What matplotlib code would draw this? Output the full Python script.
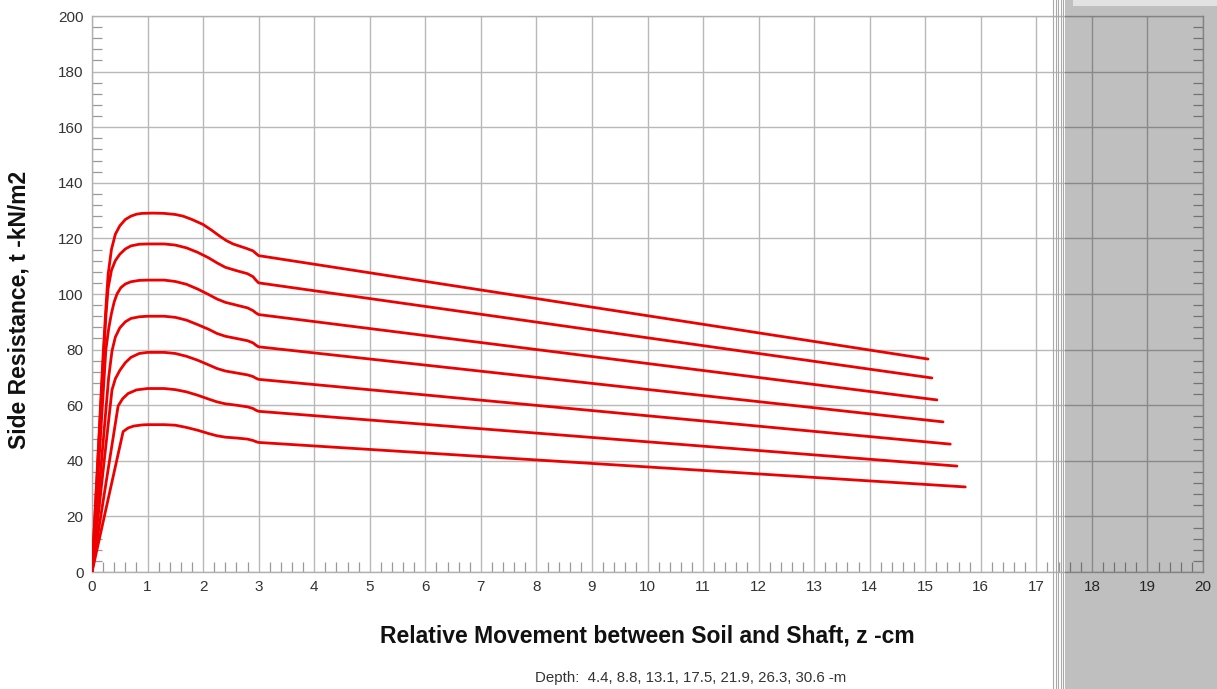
import matplotlib
matplotlib.use("Agg")
import matplotlib.pyplot as plt
from matplotlib.patches import Rectangle
from matplotlib.lines import Line2D
from matplotlib.ticker import MultipleLocator

plt.rcParams['font.family'] = ['Liberation Sans', 'DejaVu Sans']

# Relative movement z (cm) and side resistance t (kN/m2) for each depth
depths = [4.4, 8.8, 13.1, 17.5, 21.9, 26.3, 30.6]

z_44 = [0, 0.56, 0.65, 0.75, 0.9, 1.0, 1.3, 1.5, 1.7, 1.9, 2.1, 2.25, 2.4, 2.6, 2.8, 2.9, 2.95, 3.0, 15.72]
t_44 = [0, 50.5, 51.8, 52.5, 52.9, 53, 53, 52.8, 52.0, 51.0, 49.8, 49.0, 48.5, 48.2, 47.8, 47.3, 46.9, 46.6, 30.6]

z_88 = [0, 0.47, 0.55, 0.65, 0.8, 1.0, 1.3, 1.5, 1.7, 1.9, 2.1, 2.25, 2.4, 2.6, 2.8, 2.9, 2.95, 3.0, 15.57]
t_88 = [0, 59.7, 62.3, 64.2, 65.5, 66, 66, 65.6, 64.8, 63.6, 62.2, 61.2, 60.5, 60.0, 59.4, 58.8, 58.2, 57.8, 38.1]

z_131 = [0, 0.36, 0.42, 0.5, 0.6, 0.7, 0.85, 1.0, 1.3, 1.5, 1.7, 1.9, 2.1, 2.25, 2.4, 2.6, 2.8, 2.9, 2.95, 3.0, 15.45]
t_131 = [0, 65.5, 69.5, 72.5, 75.3, 77.2, 78.6, 79, 79, 78.6, 77.6, 76.2, 74.5, 73.2, 72.3, 71.6, 70.9, 70.3, 69.7, 69.3, 46.0]

z_175 = [0, 0.3, 0.36, 0.42, 0.5, 0.6, 0.7, 0.85, 1.0, 1.3, 1.5, 1.7, 1.9, 2.1, 2.25, 2.4, 2.6, 2.8, 2.9, 2.95, 3.0, 15.32]
t_175 = [0, 70, 79.5, 84.5, 87.8, 90.0, 91.2, 91.8, 92, 92, 91.6, 90.6, 89.0, 87.3, 85.8, 84.8, 84.0, 83.2, 82.4, 81.6, 81.0, 54.0]

z_219 = [0, 0.25, 0.3, 0.35, 0.4, 0.45, 0.52, 0.6, 0.7, 0.85, 1.0, 1.3, 1.5, 1.7, 1.9, 2.1, 2.25, 2.4, 2.6, 2.8, 2.9, 2.95, 3.0, 15.21]
t_219 = [0, 80, 87.5, 93, 97.2, 100, 102.3, 103.6, 104.4, 104.9, 105, 105, 104.5, 103.5, 101.8, 99.8, 98.2, 97.0, 96.0, 95.0, 94.0, 93.2, 92.6, 61.9]

z_263 = [0, 0.2, 0.25, 0.29, 0.35, 0.42, 0.5, 0.6, 0.7, 0.85, 1.0, 1.3, 1.5, 1.7, 1.9, 2.1, 2.25, 2.4, 2.6, 2.8, 2.9, 2.95, 3.0, 15.12]
t_263 = [0, 75, 92, 102, 108.5, 112, 114.3, 116.2, 117.3, 117.9, 118, 118, 117.6, 116.6, 115.0, 113.0, 111.2, 109.6, 108.4, 107.3, 106.2, 105.0, 104.0, 69.8]

z_306 = [0, 0.2, 0.25, 0.29, 0.35, 0.42, 0.5, 0.6, 0.7, 0.8, 0.9, 1.1, 1.3, 1.5, 1.64, 1.8, 2.0, 2.15, 2.3, 2.42, 2.54, 2.66, 2.78, 2.9, 2.95, 3.0, 15.05]
t_306 = [0, 78, 95, 107, 116, 121.5, 124.5, 126.8, 128, 128.7, 129, 129.1, 129, 128.6, 128, 126.8, 125, 123, 120.8, 119.2, 118.0, 117.2, 116.4, 115.5, 114.6, 113.8, 76.6]

series = [(z_44, t_44), (z_88, t_88), (z_131, t_131), (z_175, t_175),
          (z_219, t_219), (z_263, t_263), (z_306, t_306)]

W, H = 1217, 689
fig = plt.figure(figsize=(W / 100, H / 100), dpi=100)
ax = fig.add_axes([92 / W, 1 - 572 / H, (1203 - 92) / W, (572 - 16) / H])

for z, t in series:
    ax.plot(z, t, color='#ee0000', lw=2.0, solid_joinstyle='round',
            solid_capstyle='round', zorder=3)

ax.set_xlim(0, 20)
ax.set_ylim(0, 200)
ax.xaxis.set_major_locator(MultipleLocator(1))
ax.xaxis.set_minor_locator(MultipleLocator(0.2))
ax.yaxis.set_major_locator(MultipleLocator(20))
ax.yaxis.set_minor_locator(MultipleLocator(4))
ax.grid(True, which='major', color='#b8b8b8', lw=1.0, zorder=1)
ax.tick_params(axis='both', which='both', direction='in', colors='#999999',
               labelcolor='#333333', labelsize=11)
ax.tick_params(axis='both', which='major', length=0, pad=6)
ax.tick_params(axis='both', which='minor', length=7, width=0.9)
ax.tick_params(axis='y', which='both', left=True, right=True)
ax.tick_params(axis='x', which='both', bottom=True, top=False)
for s in ax.spines.values():
    s.set_color('#b0b0b0')
    s.set_linewidth(1.0)

ax.set_xlabel('Relative Movement between Soil and Shaft, z -cm', fontsize=16.5,
              fontweight='bold', color='#111111', labelpad=22)
ax.set_ylabel('Side Resistance, t -kN/m2', fontsize=16.5, fontweight='bold',
              color='#111111')
ax.yaxis.set_label_coords(-0.055, 0.471)

depth_text = 'Depth:  ' + ', '.join(str(d) for d in depths) + ' -m'
fig.text(691 / W, 1 - 678 / H, depth_text, fontsize=10.8, color='#333333',
         ha='center', va='center')

# Screen overlay on right side (gray panel and window edge lines)
for xp in [1053, 1055.5, 1058, 1060.5, 1063]:
    fig.add_artist(Line2D([xp / W, xp / W], [0, 1], color='#a8a8a8', lw=0.8,
                          transform=fig.transFigure, zorder=10))
fig.add_artist(Rectangle((1065 / W, 0), (W - 1065) / W, 1, transform=fig.transFigure,
                         facecolor='black', alpha=0.25, edgecolor='none', zorder=11))
fig.add_artist(Rectangle((1073 / W, 1 - 6 / H), (W - 1073) / W, 6 / H,
                         transform=fig.transFigure, facecolor='#e2e2e2',
                         edgecolor='none', zorder=12))

fig.savefig('out.png', dpi=100)
